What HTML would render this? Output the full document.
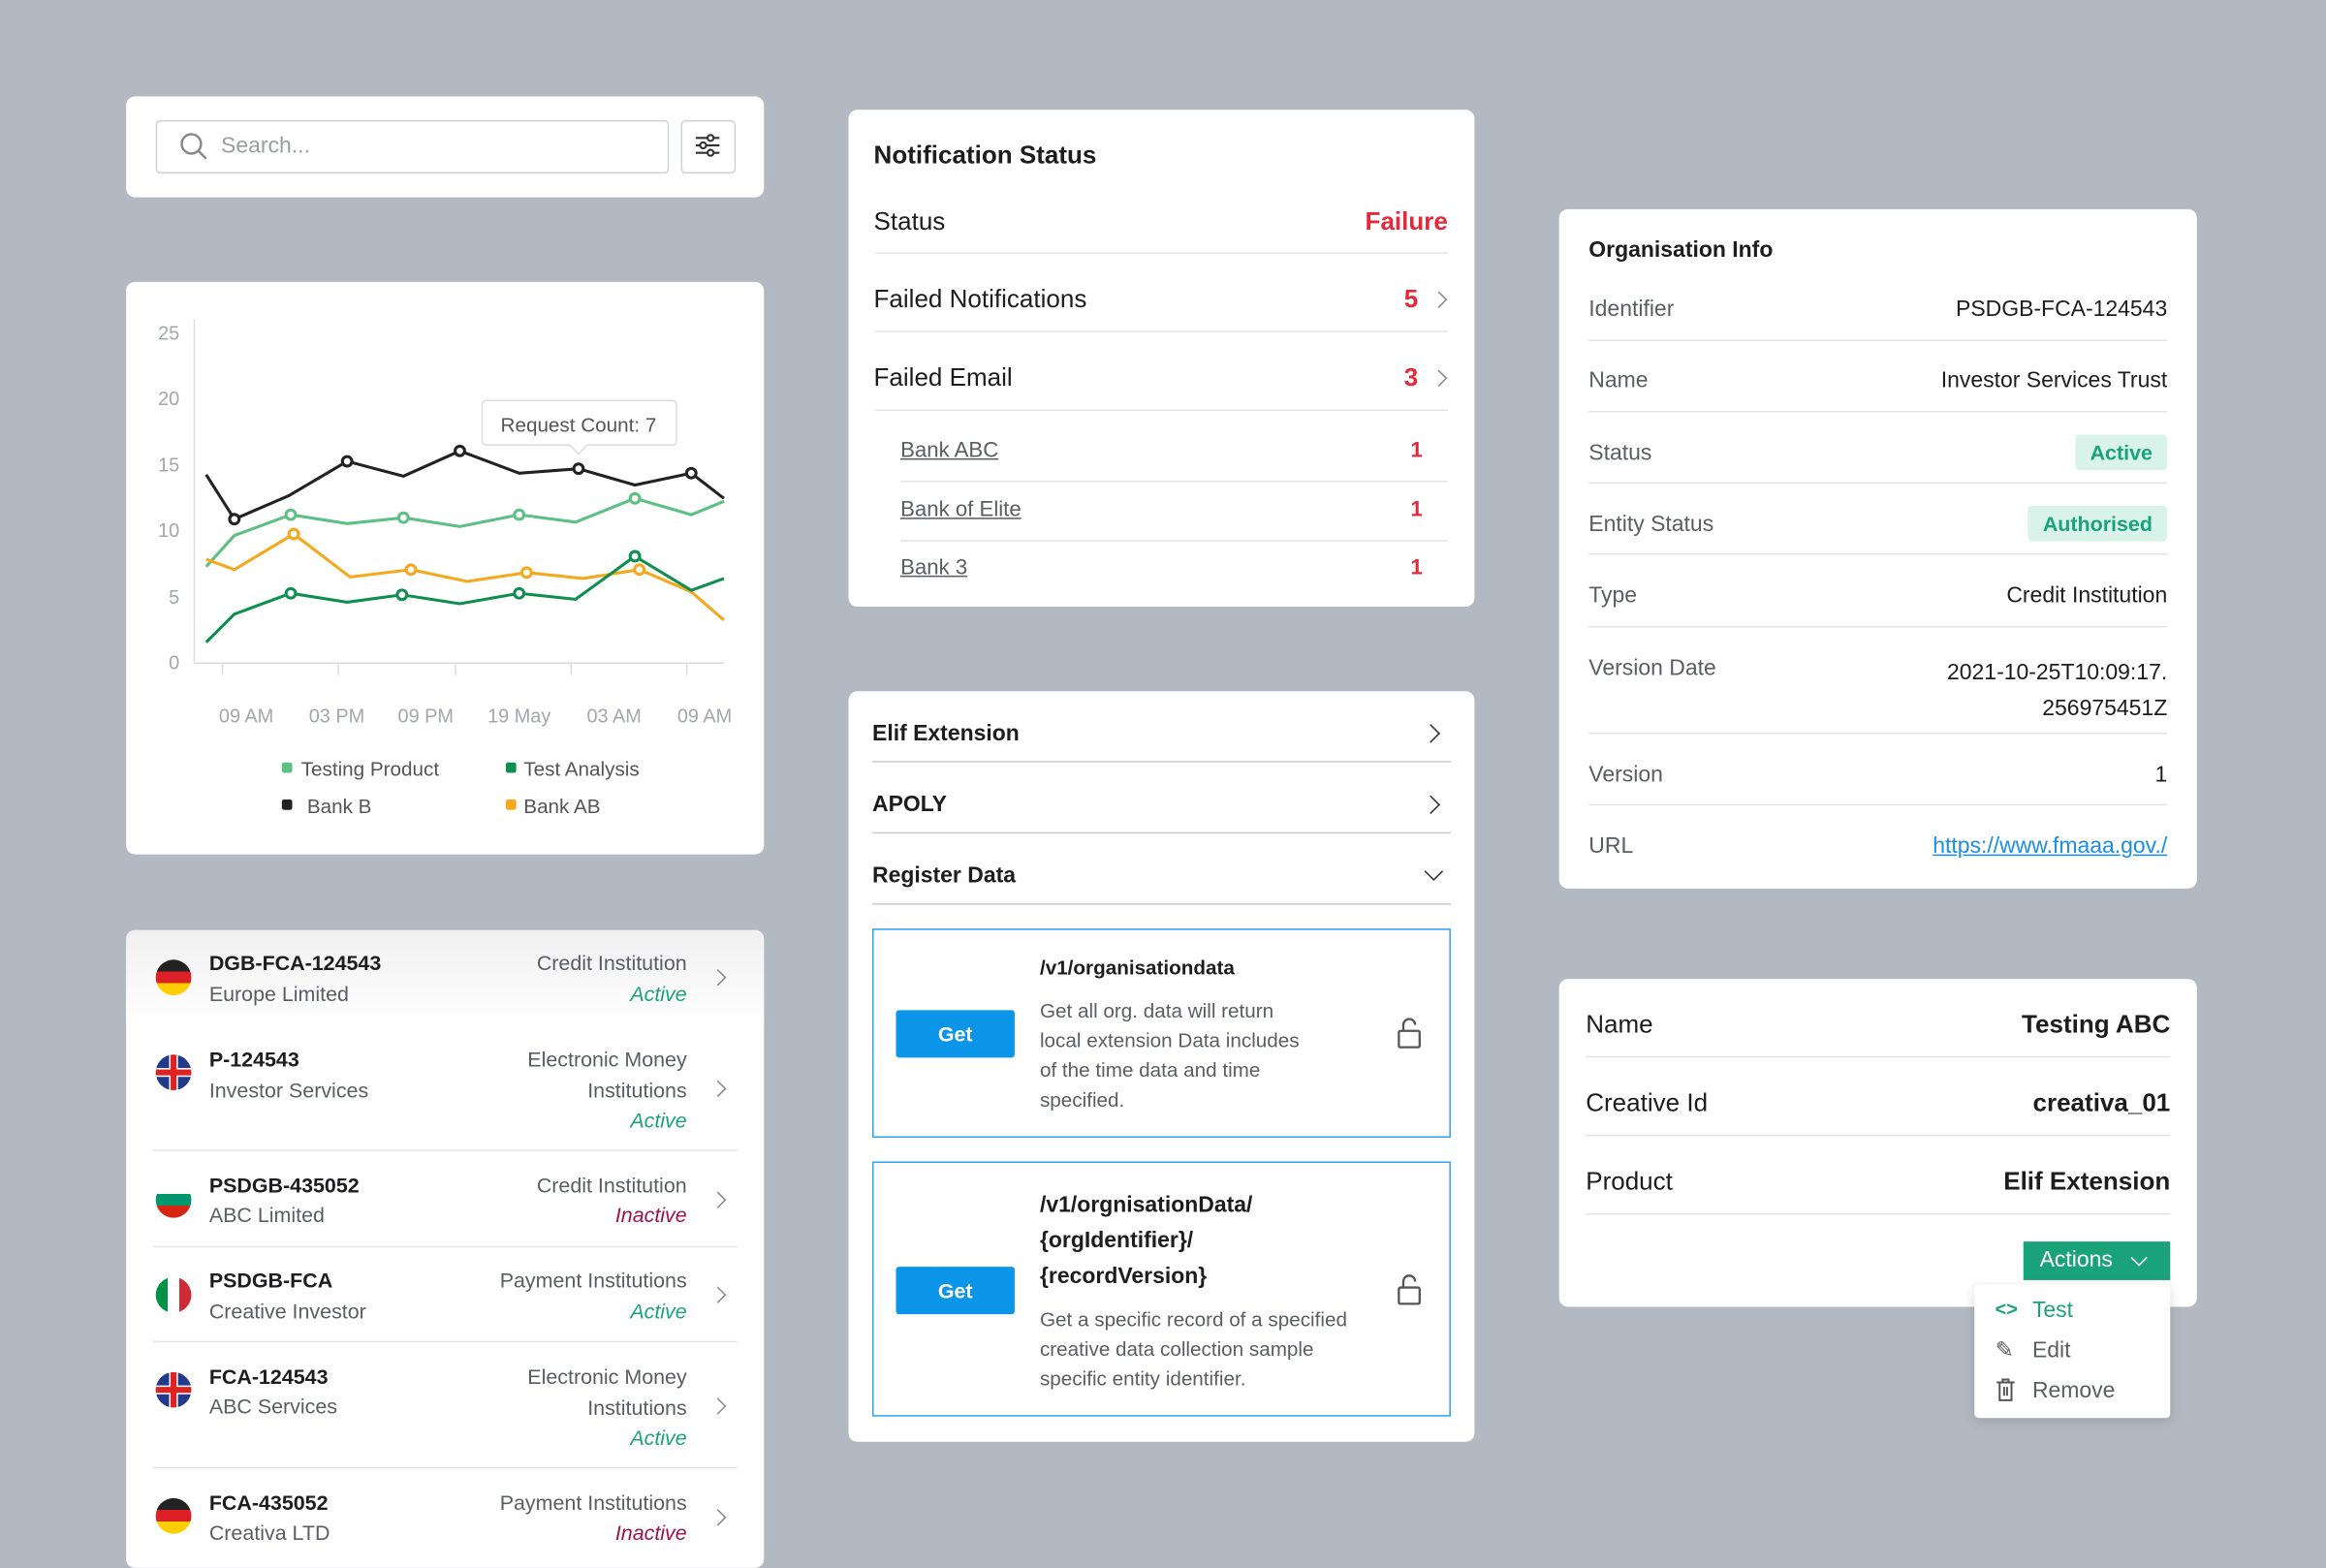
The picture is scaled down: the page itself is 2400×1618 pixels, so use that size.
<!DOCTYPE html>
<html><head><meta charset="utf-8"><style>
html,body{margin:0;padding:0;width:2400px;height:1600px;overflow:hidden;background:#b3b9c2;}
#w{position:absolute;left:0;top:0;width:1568px;height:1045px;transform:scale(1.530612);transform-origin:0 0;font-family:"Liberation Sans",sans-serif;color:#1d1d1f;}
.card{position:absolute;background:#fff;border-radius:6px;}
.abs{position:absolute;}
.row{position:absolute;left:18px;right:18px;border-bottom:1px solid #e4e4e6;}
.gray{color:#5a5d63}
.red{color:#e5293a}
.chev{position:absolute;width:7px;height:7px;border-right:1.6px solid #888;border-top:1.6px solid #888;transform:rotate(45deg);}
.badge{position:absolute;background:#d9f3ea;color:#1aa37a;font-weight:bold;font-size:14px;padding:4px 10px;border-radius:3px;}
</style></head><body><div id="w">

<!-- Search -->
<div class="card" style="left:85px;top:65px;width:430px;height:68px">
 <div class="abs" style="left:20px;top:16px;width:344px;height:34px;border:1px solid #cfd2d6;border-radius:3px"></div>
 <svg class="abs" style="left:36px;top:24px" width="20" height="20"><circle cx="8" cy="8" r="6.5" stroke="#888" stroke-width="1.6" fill="none"/><line x1="13" y1="13" x2="18" y2="18" stroke="#888" stroke-width="1.6"/></svg>
 <div class="abs" style="left:64px;top:25px;font-size:15px;color:#9a9da2">Search...</div>
 <div class="abs" style="left:374px;top:16px;width:35px;height:34px;border:1px solid #cfd2d6;border-radius:3px"></div>
 <svg class="abs" style="left:383px;top:24px" width="18" height="18" stroke="#333" stroke-width="1.4" fill="#fff"><line x1="1" y1="4" x2="17" y2="4"/><line x1="1" y1="9" x2="17" y2="9"/><line x1="1" y1="14" x2="17" y2="14"/><circle cx="11" cy="4" r="2"/><circle cx="6" cy="9" r="2"/><circle cx="11" cy="14" r="2"/></svg>
</div>

<!-- Chart -->
<div class="card" style="left:85px;top:190px;width:430px;height:386px"></div>
<svg class="abs" style="left:0;top:0" width="560" height="600" font-family="Liberation Sans" font-size="13" fill="#a3a6ad">
 <text x="121" y="229" text-anchor="end">25</text><text x="121" y="273" text-anchor="end">20</text><text x="121" y="318" text-anchor="end">15</text><text x="121" y="362" text-anchor="end">10</text><text x="121" y="407" text-anchor="end">5</text><text x="121" y="451" text-anchor="end">0</text>
 <line x1="131" y1="215" x2="131" y2="447" stroke="#ddd"/><line x1="131" y1="447" x2="488" y2="447" stroke="#ddd"/>
 <g stroke="#ddd"><line x1="150" y1="447" x2="150" y2="455"/><line x1="228" y1="447" x2="228" y2="455"/><line x1="307" y1="447" x2="307" y2="455"/><line x1="385" y1="447" x2="385" y2="455"/><line x1="463" y1="447" x2="463" y2="455"/></g>
 <text x="166" y="487" text-anchor="middle">09 AM</text><text x="227" y="487" text-anchor="middle">03 PM</text><text x="287" y="487" text-anchor="middle">09 PM</text><text x="350" y="487" text-anchor="middle">19 May</text><text x="414" y="487" text-anchor="middle">03 AM</text><text x="475" y="487" text-anchor="middle">09 AM</text>
 <g fill="none" stroke-width="2">
 <polyline stroke="#222" points="139,320 158,350 195,334 234,311 272,321 310,304 350,319 390,316 428,327 466,319 488,336"/>
 <polyline stroke="#5cbf83" points="139,382 158,361 196,347 234,353 272,349 310,355 350,347 388,352 428,336 466,347 488,338"/>
 <polyline stroke="#f5a81c" points="139,377 158,384 198,360 236,389 277,384 315,392 355,386 393,390 431,384 466,399 488,418"/>
 <polyline stroke="#0e8f4f" points="139,433 158,414 196,400 234,406 271,401 310,407 350,400 388,404 428,375 466,398 488,390"/>
 </g>
 <g fill="#fff" stroke-width="2">
 <g stroke="#222"><circle cx="158" cy="350" r="3.2"/><circle cx="234" cy="311" r="3.2"/><circle cx="310" cy="304" r="3.2"/><circle cx="390" cy="316" r="3.2"/><circle cx="466" cy="319" r="3.2"/></g>
 <g stroke="#5cbf83"><circle cx="196" cy="347" r="3.2"/><circle cx="272" cy="349" r="3.2"/><circle cx="350" cy="347" r="3.2"/><circle cx="428" cy="336" r="3.2"/></g>
 <g stroke="#f5a81c"><circle cx="198" cy="360" r="3.2"/><circle cx="277" cy="384" r="3.2"/><circle cx="355" cy="386" r="3.2"/><circle cx="431" cy="384" r="3.2"/></g>
 <g stroke="#0e8f4f"><circle cx="196" cy="400" r="3.2"/><circle cx="271" cy="401" r="3.2"/><circle cx="350" cy="400" r="3.2"/><circle cx="428" cy="375" r="3.2"/></g>
 </g>
 <path d="M328,270 H453 Q456,270 456,273 V297 Q456,300 453,300 H396 L390,306 L384,300 H328 Q325,300 325,297 V273 Q325,270 328,270Z" fill="#fff" stroke="#ddd"/>
 <text x="390" y="291" text-anchor="middle" fill="#555" font-size="13.5">Request Count: 7</text>
 <g font-size="13.5" fill="#555">
 <rect x="190" y="514" width="7" height="7" rx="1.5" fill="#5cbf83"/><text x="203" y="523">Testing Product</text>
 <rect x="341" y="514" width="7" height="7" rx="1.5" fill="#0e8f4f"/><text x="353" y="523">Test Analysis</text>
 <rect x="190" y="539" width="7" height="7" rx="1.5" fill="#222"/><text x="207" y="548">Bank B</text>
 <rect x="341" y="539" width="7" height="7" rx="1.5" fill="#f5a81c"/><text x="353" y="548">Bank AB</text>
 </g>
</svg>

<!-- List -->
<div class="card" style="left:85px;top:627px;width:430px;height:430px;overflow:hidden;font-size:14px">
 <div class="abs" style="left:0;top:0;width:430px;height:65px;background:linear-gradient(#f0f0f1,#fff)"></div>
 <!-- items -->
 <div class="abs" style="left:20px;top:20px;width:24px;height:24px;border-radius:50%;background:linear-gradient(#222 33%,#dd1f26 33%,#dd1f26 66%,#ffce00 66%)"></div>
 <div class="abs" style="left:56px;top:14px;font-weight:bold">DGB-FCA-124543</div><div class="abs gray" style="left:56px;top:35px">Europe Limited</div>
 <div class="abs gray" style="right:52px;top:14px">Credit Institution</div><div class="abs" style="right:52px;top:35px;color:#1aa37a;font-style:italic">Active</div>
 <div class="chev" style="left:395px;top:28px"></div>
 <div class="abs" style="left:20px;top:84px;width:24px;height:24px;border-radius:50%;background:#223a8a;overflow:hidden"><div class="abs" style="left:9px;top:0;width:6px;height:24px;background:#fff"></div><div class="abs" style="left:0;top:9px;width:24px;height:6px;background:#fff"></div><div class="abs" style="left:10px;top:0;width:4px;height:24px;background:#d22"></div><div class="abs" style="left:0;top:10px;width:24px;height:4px;background:#d22"></div></div>
 <div class="abs" style="left:56px;top:79px;font-weight:bold">P-124543</div><div class="abs gray" style="left:56px;top:100px">Investor Services</div>
 <div class="abs gray" style="right:52px;top:79px;text-align:right">Electronic Money<br><span style="line-height:26px">Institutions</span></div><div class="abs" style="right:52px;top:120px;color:#1aa37a;font-style:italic">Active</div>
 <div class="chev" style="left:395px;top:103px"></div>
 <div class="row" style="top:148px"></div>
 <div class="abs" style="left:20px;top:170px;width:24px;height:24px;border-radius:50%;background:linear-gradient(#fff 33%,#00966e 33%,#00966e 66%,#d62612 66%)"></div>
 <div class="abs" style="left:56px;top:164px;font-weight:bold">PSDGB-435052</div><div class="abs gray" style="left:56px;top:184px">ABC Limited</div>
 <div class="abs gray" style="right:52px;top:164px">Credit Institution</div><div class="abs" style="right:52px;top:184px;color:#a0124a;font-style:italic">Inactive</div>
 <div class="chev" style="left:395px;top:178px"></div>
 <div class="row" style="top:213px"></div>
 <div class="abs" style="left:20px;top:234px;width:24px;height:24px;border-radius:50%;background:linear-gradient(90deg,#009246 33%,#fff 33%,#fff 66%,#ce2b37 66%)"></div>
 <div class="abs" style="left:56px;top:228px;font-weight:bold">PSDGB-FCA</div><div class="abs gray" style="left:56px;top:249px">Creative Investor</div>
 <div class="abs gray" style="right:52px;top:228px">Payment Institutions</div><div class="abs" style="right:52px;top:249px;color:#1aa37a;font-style:italic">Active</div>
 <div class="chev" style="left:395px;top:242px"></div>
 <div class="row" style="top:277px"></div>
 <div class="abs" style="left:20px;top:298px;width:24px;height:24px;border-radius:50%;background:#223a8a;overflow:hidden"><div class="abs" style="left:9px;top:0;width:6px;height:24px;background:#fff"></div><div class="abs" style="left:0;top:9px;width:24px;height:6px;background:#fff"></div><div class="abs" style="left:10px;top:0;width:4px;height:24px;background:#d22"></div><div class="abs" style="left:0;top:10px;width:24px;height:4px;background:#d22"></div></div>
 <div class="abs" style="left:56px;top:293px;font-weight:bold">FCA-124543</div><div class="abs gray" style="left:56px;top:313px">ABC Services</div>
 <div class="abs gray" style="right:52px;top:293px;text-align:right">Electronic Money<br><span style="line-height:26px">Institutions</span></div><div class="abs" style="right:52px;top:334px;color:#1aa37a;font-style:italic">Active</div>
 <div class="chev" style="left:395px;top:317px"></div>
 <div class="row" style="top:362px"></div>
 <div class="abs" style="left:20px;top:383px;width:24px;height:24px;border-radius:50%;background:linear-gradient(#222 33%,#dd1f26 33%,#dd1f26 66%,#ffce00 66%)"></div>
 <div class="abs" style="left:56px;top:378px;font-weight:bold">FCA-435052</div><div class="abs gray" style="left:56px;top:398px">Creativa LTD</div>
 <div class="abs gray" style="right:52px;top:378px">Payment Institutions</div><div class="abs" style="right:52px;top:398px;color:#a0124a;font-style:italic">Inactive</div>
 <div class="chev" style="left:395px;top:392px"></div>
</div>

<!-- Notification -->
<div class="card" style="left:572px;top:74px;width:422px;height:335px;font-size:17px">
 <div class="abs" style="left:17px;top:21px;font-weight:bold">Notification Status</div>
 <div class="abs" style="left:17px;top:66px">Status</div><div class="abs red" style="right:18px;top:66px;font-weight:bold">Failure</div>
 <div class="row" style="top:96px"></div>
 <div class="abs" style="left:17px;top:118px">Failed Notifications</div><div class="abs red" style="right:38px;top:118px;font-weight:bold">5</div><div class="chev" style="left:394px;top:124px"></div>
 <div class="row" style="top:149px"></div>
 <div class="abs" style="left:17px;top:171px">Failed Email</div><div class="abs red" style="right:38px;top:171px;font-weight:bold">3</div><div class="chev" style="left:394px;top:177px"></div>
 <div class="row" style="top:202px"></div>
 <div style="font-size:14.5px" class="gray">
 <div class="abs" style="left:35px;top:222px;text-decoration:underline">Bank ABC</div><div class="abs red" style="right:35px;top:222px;font-weight:bold">1</div>
 <div class="row" style="top:250px;left:35px"></div>
 <div class="abs" style="left:35px;top:262px;text-decoration:underline">Bank of Elite</div><div class="abs red" style="right:35px;top:262px;font-weight:bold">1</div>
 <div class="row" style="top:290px;left:35px"></div>
 <div class="abs" style="left:35px;top:301px;text-decoration:underline">Bank 3</div><div class="abs red" style="right:35px;top:301px;font-weight:bold">1</div>
 </div>
</div>

<!-- Elif -->
<div class="card" style="left:572px;top:466px;width:422px;height:506px;font-size:15px">
 <div class="abs" style="left:16px;top:20px;font-weight:bold">Elif Extension</div><div class="chev" style="left:388px;top:24px;width:8px;height:8px;border-color:#333"></div>
 <div class="row" style="top:47px;left:16px;right:16px;border-color:#ccc"></div>
 <div class="abs" style="left:16px;top:68px;font-weight:bold">APOLY</div><div class="chev" style="left:388px;top:72px;width:8px;height:8px;border-color:#333"></div>
 <div class="row" style="top:95px;left:16px;right:16px;border-color:#ccc"></div>
 <div class="abs" style="left:16px;top:116px;font-weight:bold">Register Data</div><div class="chev" style="left:390px;top:117px;width:8px;height:8px;border-color:#333;transform:rotate(135deg)"></div>
 <div class="row" style="top:143px;left:16px;right:16px;border-color:#ccc"></div>
 <div class="abs" style="left:16px;top:160px;width:388px;height:139px;border:1.5px solid #2ea3f2"></div>
 <div class="abs" style="left:32px;top:215px;width:80px;height:32px;background:#0b95e8;color:#fff;font-weight:bold;font-size:14px;text-align:center;line-height:32px;border-radius:2px">Get</div>
 <div class="abs" style="left:129px;top:179px;font-weight:bold;font-size:13.5px">/v1/organisationdata</div>
 <div class="abs gray" style="left:129px;top:206px;font-size:13.5px;line-height:20px;width:180px">Get all org. data will return local extension Data includes of the time data and time specified.</div>
 <svg class="abs" style="left:369px;top:220px" width="18" height="22" fill="none" stroke="#555" stroke-width="1.5"><rect x="2" y="9" width="14" height="11" rx="1"/><path d="M5,9 V5 A4,4 0 0 1 13,5"/></svg>
 <div class="abs" style="left:16px;top:317px;width:388px;height:170px;border:1.5px solid #2ea3f2"></div>
 <div class="abs" style="left:32px;top:388px;width:80px;height:32px;background:#0b95e8;color:#fff;font-weight:bold;font-size:14px;text-align:center;line-height:32px;border-radius:2px">Get</div>
 <div class="abs" style="left:129px;top:335px;font-weight:bold;font-size:15px;line-height:24px">/v1/orgnisationData/<br>{orgIdentifier}/<br>{recordVersion}</div>
 <div class="abs gray" style="left:129px;top:414px;font-size:13.5px;line-height:20px;width:230px">Get a specific record of a specified creative data collection sample specific entity identifier.</div>
 <svg class="abs" style="left:369px;top:393px" width="18" height="22" fill="none" stroke="#555" stroke-width="1.5"><rect x="2" y="9" width="14" height="11" rx="1"/><path d="M5,9 V5 A4,4 0 0 1 13,5"/></svg>
</div>

<!-- Org info -->
<div class="card" style="left:1051px;top:141px;width:430px;height:458px;font-size:15px">
 <div class="abs" style="left:20px;top:19px;font-weight:bold">Organisation Info</div>
 <div class="abs gray" style="left:20px;top:59px">Identifier</div><div class="abs" style="right:20px;top:59px">PSDGB-FCA-124543</div>
 <div class="row" style="top:88px;left:20px;right:20px"></div>
 <div class="abs gray" style="left:20px;top:107px">Name</div><div class="abs" style="right:20px;top:107px">Investor Services Trust</div>
 <div class="row" style="top:136px;left:20px;right:20px"></div>
 <div class="abs gray" style="left:20px;top:156px">Status</div><div class="badge" style="right:20px;top:152px">Active</div>
 <div class="row" style="top:184px;left:20px;right:20px"></div>
 <div class="abs gray" style="left:20px;top:204px">Entity Status</div><div class="badge" style="right:20px;top:200px">Authorised</div>
 <div class="row" style="top:232px;left:20px;right:20px"></div>
 <div class="abs gray" style="left:20px;top:252px">Type</div><div class="abs" style="right:20px;top:252px">Credit Institution</div>
 <div class="row" style="top:281px;left:20px;right:20px"></div>
 <div class="abs gray" style="left:20px;top:301px">Version Date</div><div class="abs" style="right:20px;top:301px;text-align:right;line-height:24px">2021-10-25T10:09:17.<br>256975451Z</div>
 <div class="row" style="top:353px;left:20px;right:20px"></div>
 <div class="abs gray" style="left:20px;top:373px">Version</div><div class="abs" style="right:20px;top:373px">1</div>
 <div class="row" style="top:401px;left:20px;right:20px"></div>
 <div class="abs gray" style="left:20px;top:421px">URL</div><div class="abs" style="right:20px;top:421px;color:#1a8fe3;text-decoration:underline">https://www.fmaaa.gov./</div>
</div>

<!-- Name card -->
<div class="card" style="left:1051px;top:660px;width:430px;height:221px;font-size:17px">
 <div class="abs" style="left:18px;top:21px">Name</div><div class="abs" style="right:18px;top:21px;font-weight:bold">Testing ABC</div>
 <div class="row" style="top:52px"></div>
 <div class="abs" style="left:18px;top:74px">Creative Id</div><div class="abs" style="right:18px;top:74px;font-weight:bold">creativa_01</div>
 <div class="row" style="top:105px"></div>
 <div class="abs" style="left:18px;top:127px">Product</div><div class="abs" style="right:18px;top:127px;font-weight:bold">Elif Extension</div>
 <div class="row" style="top:158px"></div>
 <div class="abs" style="left:313px;top:177px;width:99px;height:26px;background:#1aa37a;color:#fff;font-size:15px;line-height:26px;padding-left:11px;box-sizing:border-box">Actions</div>
 <div class="chev" style="left:387px;top:184px;border-color:#fff;transform:rotate(135deg)"></div>
</div>
<div class="card" style="left:1331px;top:866px;width:132px;height:90px;border-radius:3px;box-shadow:0 2px 8px rgba(0,0,0,.15);font-size:15px">
 <div class="abs" style="left:14px;top:9px;color:#1aa37a;font-weight:bold;font-size:13px">&lt;&gt;</div><div class="abs" style="left:39px;top:9px;color:#1aa37a">Test</div>
 <div class="abs" style="left:14px;top:35px;color:#555">✎</div><div class="abs gray" style="left:39px;top:36px">Edit</div>
 <svg class="abs" style="left:14px;top:63px" width="14" height="16" fill="none" stroke="#555" stroke-width="1.3"><path d="M1,3 H13 M5,3 V1 H9 V3 M3,3 V15 H11 V3 M6,6 V12 M8,6 V12"/></svg><div class="abs gray" style="left:39px;top:63px">Remove</div>
</div>

</div></body></html>
